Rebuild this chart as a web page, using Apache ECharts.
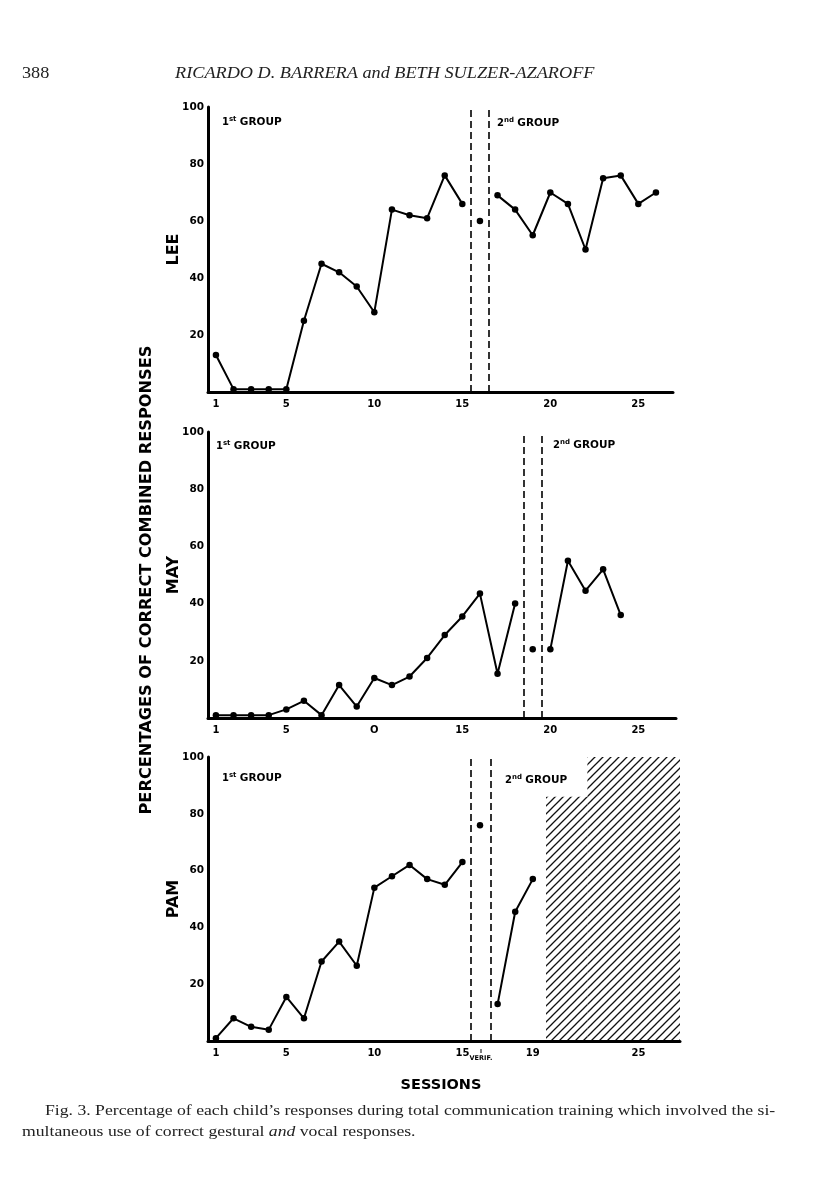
<!DOCTYPE html>
<html><head><meta charset="utf-8">
<script src="https://cdn.jsdelivr.net/npm/echarts@6/dist/echarts.min.js"></script>
<style>html,body{margin:0;padding:0;background:#fff}#c{width:816px;height:1200px}</style>
</head><body><div id="c"></div>
<script>
// ---------- DATA ----------
const panelNames = ['LEE', 'MAY', 'PAM'];
const yTicks = [20, 40, 60, 80, 100];

// LEE
const lee1Sessions = [1,2,3,4,5,6,7,8,9,10,11,12,13,14,15];
const lee1Pct      = [13,1,1,1,1,25,45,42,37,28,64,62,61,76,66];
const leeProbeSessions = [16];
const leeProbePct      = [60];
const lee2Sessions = [17,18,19,20,21,22,23,24,25,26];
const lee2Pct      = [69,64,55,70,66,50,75,76,66,70];
const leePhaseLines = [15.5, 16.5];
const leeXTicks = [1,5,10,15,20,25];
const leeXTickLabels = ['1','5','10','15','20','25'];

// MAY
const may1Sessions = [1,2,3,4,5,6,7,8,9,10,11,12,13,14,15,16,17,18];
const may1Pct      = [1,1,1,1,3,6,1,11.5,4,14,11.5,14.5,21,29,35.5,43.5,15.5,40];
const mayProbeSessions = [19];
const mayProbePct      = [24];
const may2Sessions = [20,21,22,23,24];
const may2Pct      = [24,55,44.5,52,36];
const mayPhaseLines = [18.5, 19.5];
const mayXTicks = [1,5,10,15,20,25];
const mayXTickLabels = ['1','5','O','15','20','25'];

// PAM
const pam1Sessions = [1,2,3,4,5,6,7,8,9,10,11,12,13,14,15];
const pam1Pct      = [1,8,5,4,15.5,8,28,35,26.5,54,58,62,57,55,63];
const pamProbeSessions = [16];
const pamProbePct      = [76];
const pam2Sessions = [17,18,19];
const pam2Pct      = [13,45.5,57];
const pamPhaseLines = [15.5, 16.6];
const pamXTicks = [1,5,10,15,19,25];
const pamXTickLabels = ['1','5','10','15','19','25'];
// hatched (no data) region: [fromSession, toSession, topPct]
const pamHatchFrom = [19.75, 22.1];
const pamHatchTo   = [22.1, 27.36];
const pamHatchTop  = [86, 100];

// ---------- LAYOUT ----------
const grids = [
  {left:208, top:107, height:285, right:143, xMax:26.97},
  {left:208, top:432, height:286, right:140, xMax:27.14},
  {left:208, top:757, height:284, right:136, xMax:27.36}
];
const X_MIN = 0.55;
const FONT = 'DejaVu Sans';
const SERIF = 'Liberation Serif';
const TEXT_SCALE = 1.14;

const pairs = (xs, ys) => xs.map((x, i) => [x, ys[i]]);

// hatch pattern
const pat = document.createElement('canvas');
pat.width = 8; pat.height = 8;
(function(){
  const c = pat.getContext('2d');
  c.strokeStyle = '#111'; c.lineWidth = 1.3; c.lineCap = 'square';
  c.beginPath();
  c.moveTo(-1, 9); c.lineTo(9, -1);
  c.moveTo(-1, 1); c.lineTo(1, -1);
  c.moveTo(7, 9); c.lineTo(9, 7);
  c.stroke();
})();

const panels = [
  {s1:[lee1Sessions,lee1Pct], p:[leeProbeSessions,leeProbePct], s2:[lee2Sessions,lee2Pct], lines:leePhaseLines, xt:leeXTicks, xl:leeXTickLabels},
  {s1:[may1Sessions,may1Pct], p:[mayProbeSessions,mayProbePct], s2:[may2Sessions,may2Pct], lines:mayPhaseLines, xt:mayXTicks, xl:mayXTickLabels},
  {s1:[pam1Sessions,pam1Pct], p:[pamProbeSessions,pamProbePct], s2:[pam2Sessions,pam2Pct], lines:pamPhaseLines, xt:pamXTicks, xl:pamXTickLabels}
];

const grid = [], xAxis = [], yAxis = [], series = [];
panels.forEach((pn, i) => {
  const g = grids[i];
  grid.push({left:g.left, top:g.top, height:g.height, right:g.right, containLabel:false});
  xAxis.push({
    type:'value', gridIndex:i, min:X_MIN, max:g.xMax, z:3,
    splitLine:{show:false}, axisTick:{show:false},
    axisLine:{show:true, onZero:false, lineStyle:{color:'#000', width:3}},
    axisLabel:{customValues:pn.xt, margin:7, color:'#000', fontFamily:FONT, fontWeight:'bold', fontSize:10,
      formatter:(v)=>{const k=pn.xt.indexOf(v); return k>=0?pn.xl[k]:'';}}
  });
  yAxis.push({
    type:'value', gridIndex:i, min:0, max:100, interval:20, z:3,
    splitLine:{show:false}, axisTick:{show:false},
    axisLine:{show:true, lineStyle:{color:'#000', width:3}},
    axisLabel:{customValues:yTicks, margin:4, color:'#000', fontFamily:FONT, fontWeight:'bold', fontSize:10.5},
    name:panelNames[i], nameLocation:'middle', nameGap:26, nameRotate:90, nameMoveOverlap:false,
    nameTextStyle:{color:'#000', fontFamily:FONT, fontWeight:'bold', fontSize:16}
  });
  const common = {xAxisIndex:i, yAxisIndex:i, symbol:'circle', symbolSize:6.5,
    itemStyle:{color:'#000', opacity:1}, lineStyle:{color:'#000', width:2}, animation:false, silent:true, z:2};
  series.push(Object.assign({type:'line', data:pairs(pn.s1[0], pn.s1[1]),
    markLine:{silent:true, symbol:'none', label:{show:false}, animation:false,
      lineStyle:{color:'#000', width:1.6, type:[7,4]},
      data: pn.lines.map(x => [{coord:[x,0]},{coord:[x,100]}])}}, common));
  series.push(Object.assign({type:'scatter', data:pairs(pn.p[0], pn.p[1])}, common));
  series.push(Object.assign({type:'line', data:pairs(pn.s2[0], pn.s2[1])}, common));
});

// hatched region on PAM
series.push({
  type:'custom', xAxisIndex:2, yAxisIndex:2, silent:true, animation:false, z:1,
  data: pamHatchFrom.map((f, i) => [f, pamHatchTo[i], pamHatchTop[i]]),
  renderItem:(params, api) => {
    const a = api.coord([api.value(0), api.value(2)]);
    const b = api.coord([api.value(1), 0]);
    return {type:'rect', shape:{x:a[0], y:a[1], width:b[0]-a[0], height:b[1]-a[1]},
      style:{fill:{image:pat, repeat:'repeat'}, stroke:null}};
  }
});

function groupText(x, y, num, sup) {
  return {type:'text', x:x, y:y, style:{
    text:'{n|'+num+'}{s|'+sup+'} {g|GROUP}', fill:'#000', verticalAlign:'middle',
    rich:{
      n:{fontFamily:FONT, fontWeight:'bold', fontSize:10, fill:'#000'},
      s:{fontFamily:FONT, fontWeight:'bold', fontSize:7, fill:'#000', verticalAlign:'top', padding:[0,0,4,0]},
      g:{fontFamily:FONT, fontWeight:'bold', fontSize:10.5, fill:'#000'}
    }}};
}

const graphic = [
  {type:'text', x:22, y:66, scaleX:TEXT_SCALE, style:{text:'388', fontFamily:SERIF, fontSize:16, fill:'#222'}},
  {type:'text', x:175, y:66, scaleX:TEXT_SCALE, style:{text:'RICARDO D. BARRERA and BETH SULZER-AZAROFF',
    fontFamily:SERIF, fontStyle:'italic', fontSize:16, fill:'#222'}},
  {type:'text', x:147, y:580, rotation:Math.PI/2, style:{text:'PERCENTAGES OF CORRECT COMBINED RESPONSES',
    fontFamily:FONT, fontWeight:'bold', fontSize:16.2, fill:'#000', align:'center', verticalAlign:'middle'}},
  {type:'text', x:441, y:1085, style:{text:'SESSIONS', fontFamily:FONT, fontWeight:'bold', fontSize:14.5,
    fill:'#000', align:'center', verticalAlign:'middle'}},
  {type:'text', x:481, y:1058, style:{text:'VERIF.', fontFamily:FONT, fontWeight:'bold', fontSize:6.5,
    fill:'#000', align:'center', verticalAlign:'middle'}},
  {type:'line', shape:{x1:481, y1:1049, x2:481, y2:1053}, style:{stroke:'#000', lineWidth:1}},
  groupText(222, 122, '1', 'st'),
  groupText(497, 123, '2', 'nd'),
  groupText(216, 446, '1', 'st'),
  groupText(553, 445, '2', 'nd'),
  groupText(222, 778, '1', 'st'),
  groupText(505, 780, '2', 'nd'),
  {type:'text', x:45, y:1103, scaleX:TEXT_SCALE, style:{text:'Fig. 3. Percentage of each child\u2019s responses during total communication training which involved the si-',
    fontFamily:SERIF, fontSize:15.5, fill:'#222'}},
  {type:'text', x:22, y:1124, scaleX:TEXT_SCALE, style:{text:'multaneous use of correct gestural {i|and} vocal responses.',
    fontFamily:SERIF, fontSize:15.5, fill:'#222',
    rich:{i:{fontFamily:SERIF, fontStyle:'italic', fontSize:15.5, fill:'#222'}}}}
];

const chart = echarts.init(document.getElementById('c'), null, {renderer:'canvas'});
chart.setOption({animation:false, backgroundColor:'#fff', grid, xAxis, yAxis, series, graphic});
</script>
</body></html>
